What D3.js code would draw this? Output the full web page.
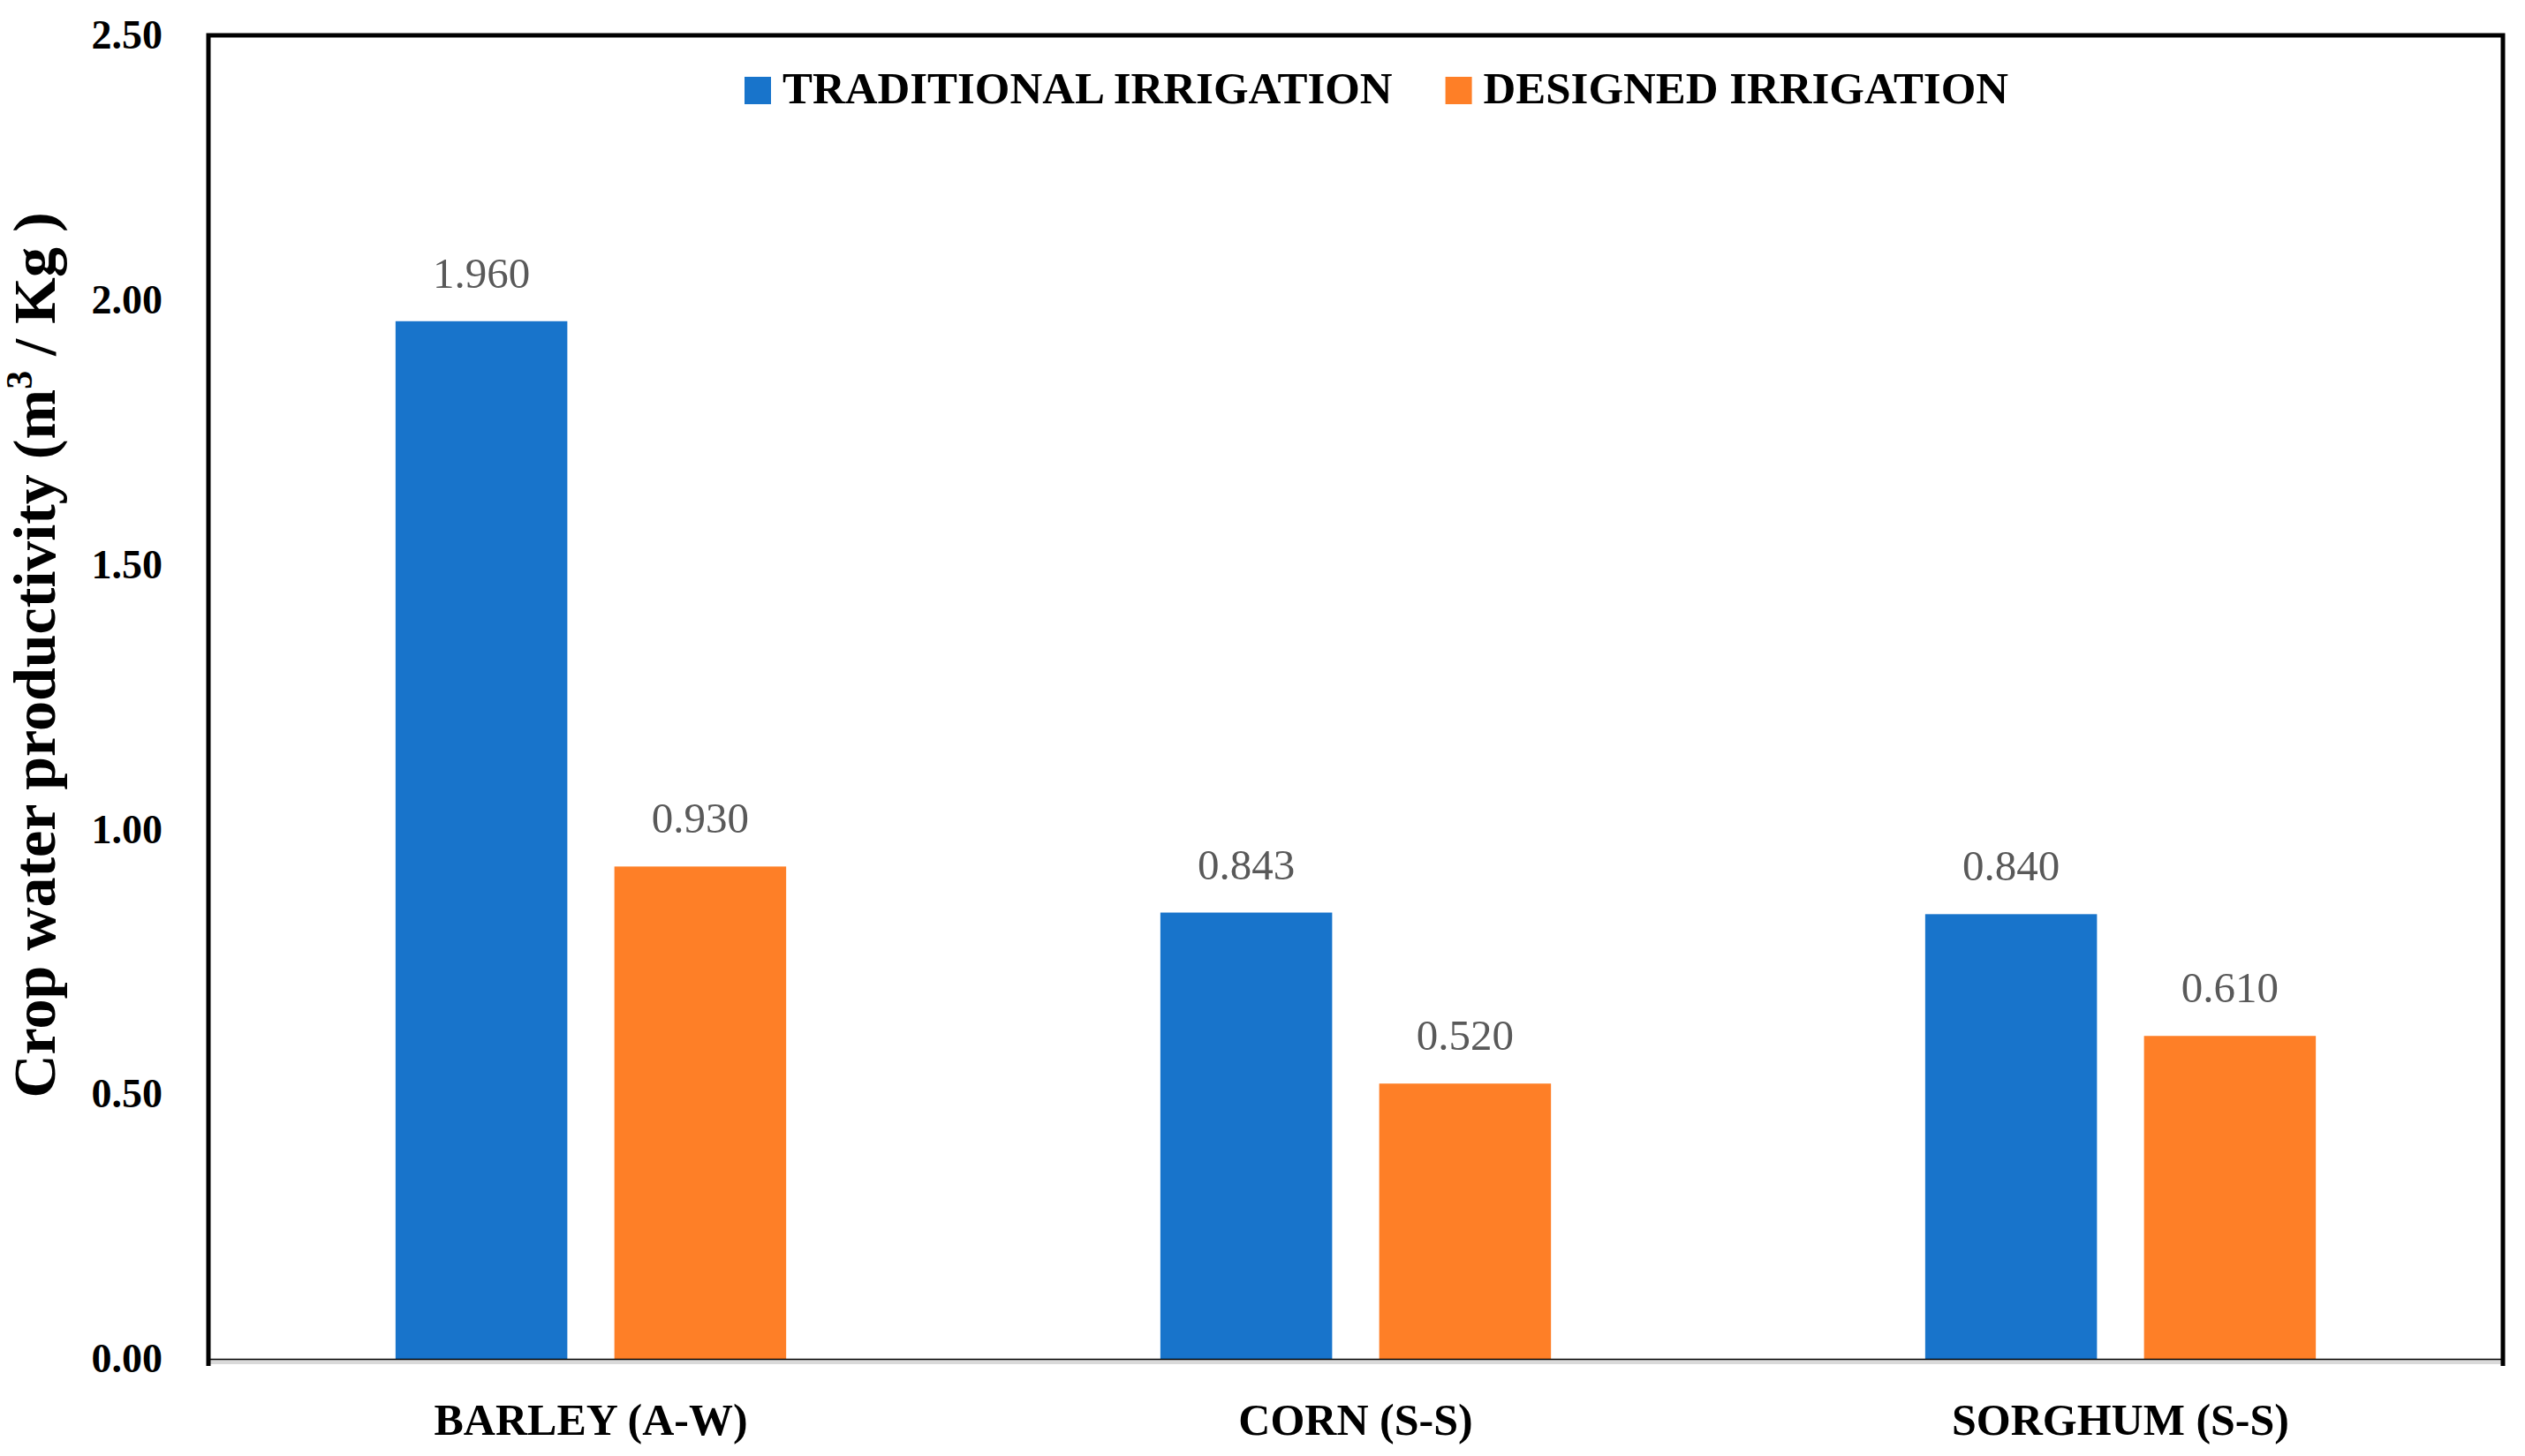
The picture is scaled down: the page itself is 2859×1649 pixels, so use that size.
<!DOCTYPE html>
<html>
<head>
<meta charset="utf-8">
<script src="https://cdn.jsdelivr.net/npm/d3@7"></script>
<style>
  body { margin: 0; background: #fff; }
  svg { display: block; font-family: "Liberation Serif", "DejaVu Serif", serif; }
</style>
</head>
<body>
<div class="viz"></div>
<script>
// crop water productivity, two irrigation methods per crop
const crops = ['BARLEY (A-W)', 'CORN (S-S)', 'SORGHUM (S-S)'];
const series = ['TRADITIONAL IRRIGATION', 'DESIGNED IRRIGATION'];
const traditional = [1.960, 0.843, 0.840];
const designed = [0.930, 0.520, 0.610];
const yTicks = [0, 0.5, 1, 1.5, 2, 2.5];

const colors = ['#1874cb', '#fe7f27'];

// chart table built from the arrays above
const rows = crops.map((crop, i) => ({
  crop,
  values: [traditional[i], designed[i]],
}));

const W = 2859;
const H = 1649;
const margin = { top: 40, right: 25, bottom: 110, left: 236 };
const width = W - margin.left - margin.right;
const height = H - margin.top - margin.bottom;

const svg = d3.select('.viz')
  .append('svg')
  .attr('width', W)
  .attr('height', H);

const g = svg.append('g')
  .attr('transform', `translate(${margin.left} ${margin.top})`);

// one band per crop, then two bars inside
const x0 = d3.scaleBand()
  .domain(crops)
  .range([0, width]);

const x1 = d3.scaleBand()
  .domain(series)
  .range([0, x0.bandwidth()])
  .paddingInner(0.215)
  .paddingOuter(0.855);

const y = d3.scaleLinear()
  .domain([0, 2.5])
  .range([height, 0]);

// bars
const groups = g.selectAll('g.crop')
  .data(rows)
  .enter()
  .append('g')
  .attr('class', 'crop')
  .attr('transform', d => `translate(${x0(d.crop)} 0)`);

const bars = groups.selectAll('g.bar')
  .data(d => d.values.map((v, i) => ({ key: series[i], value: v, i })))
  .enter()
  .append('g')
  .attr('class', 'bar');

bars.append('rect')
  .attr('x', d => x1(d.key))
  .attr('y', d => y(d.value))
  .attr('width', x1.bandwidth())
  .attr('height', d => height - y(d.value))
  .attr('fill', d => colors[d.i]);

// value labels above each bar
bars.append('text')
  .attr('x', d => x1(d.key) + x1.bandwidth() / 2)
  .attr('y', d => y(d.value) - 38)
  .attr('text-anchor', 'middle')
  .attr('font-size', 49)
  .attr('fill', '#595959')
  .text(d => d3.format('.3f')(d.value));

// y axis, labels only
const yAxis = g.append('g')
  .attr('class', 'axis y-axis')
  .call(d3.axisLeft(y).tickValues(yTicks).tickSize(0).tickPadding(52).tickFormat(d3.format('.2f')));

yAxis.select('.domain').remove();
yAxis.selectAll('text')
  .attr('font-size', 46)
  .attr('font-weight', 'bold')
  .attr('font-family', '"Liberation Serif", serif')
  .attr('fill', '#000');

// x axis: grey shadow plus thin black baseline
g.append('line')
  .attr('x1', 0)
  .attr('x2', width)
  .attr('y1', height + 3.5)
  .attr('y2', height + 3.5)
  .attr('stroke', '#d9d9d9')
  .attr('stroke-width', 5);

const xAxis = g.append('g')
  .attr('class', 'axis x-axis')
  .attr('transform', `translate(0 ${height})`)
  .call(d3.axisBottom(x0).tickSize(0).tickPadding(50));

xAxis.select('.domain')
  .attr('stroke', '#000')
  .attr('stroke-width', 1.5);

xAxis.selectAll('text')
  .attr('font-size', 50)
  .attr('font-weight', 'bold')
  .attr('font-family', '"Liberation Serif", serif')
  .attr('fill', '#000')
  .attr('dy', '0.71em');

// frame: left, top, right thick lines
g.append('path')
  .attr('d', `M0 ${height + 8} V0 H${width} V${height + 8}`)
  .attr('fill', 'none')
  .attr('stroke', '#000')
  .attr('stroke-width', 5);

// y axis title
const yTitle = svg.append('text')
  .attr('transform', `translate(62 742) rotate(-90)`)
  .attr('text-anchor', 'middle')
  .attr('font-size', 68)
  .attr('font-weight', 'bold')
  .attr('fill', '#000');
yTitle.append('tspan').text('Crop water productivity (m');
yTitle.append('tspan').attr('dy', -26).attr('font-size', 42).text('3');
yTitle.append('tspan').attr('dy', 26).text(' / Kg )');

// legend, text widened slightly to match the wider original face
const legend = svg.append('g')
  .attr('class', 'legend')
  .attr('transform', 'translate(843 0)');

let lx = 0;
series.forEach((s, i) => {
  const item = legend.append('g').attr('transform', `translate(${lx} 0)`);
  item.append('rect')
    .attr('x', 0)
    .attr('y', 87)
    .attr('width', 30)
    .attr('height', 31)
    .attr('fill', colors[i]);
  const t = item.append('text')
    .attr('x', 43)
    .attr('y', 117)
    .attr('font-size', 50)
    .attr('font-weight', 'bold')
    .attr('fill', '#000')
    .text(s);
  const len = t.node().getComputedTextLength() * 1.018;
  t.attr('textLength', len).attr('lengthAdjust', 'spacingAndGlyphs');
  lx += 43 + len + 60;
});
</script>
</body>
</html>
